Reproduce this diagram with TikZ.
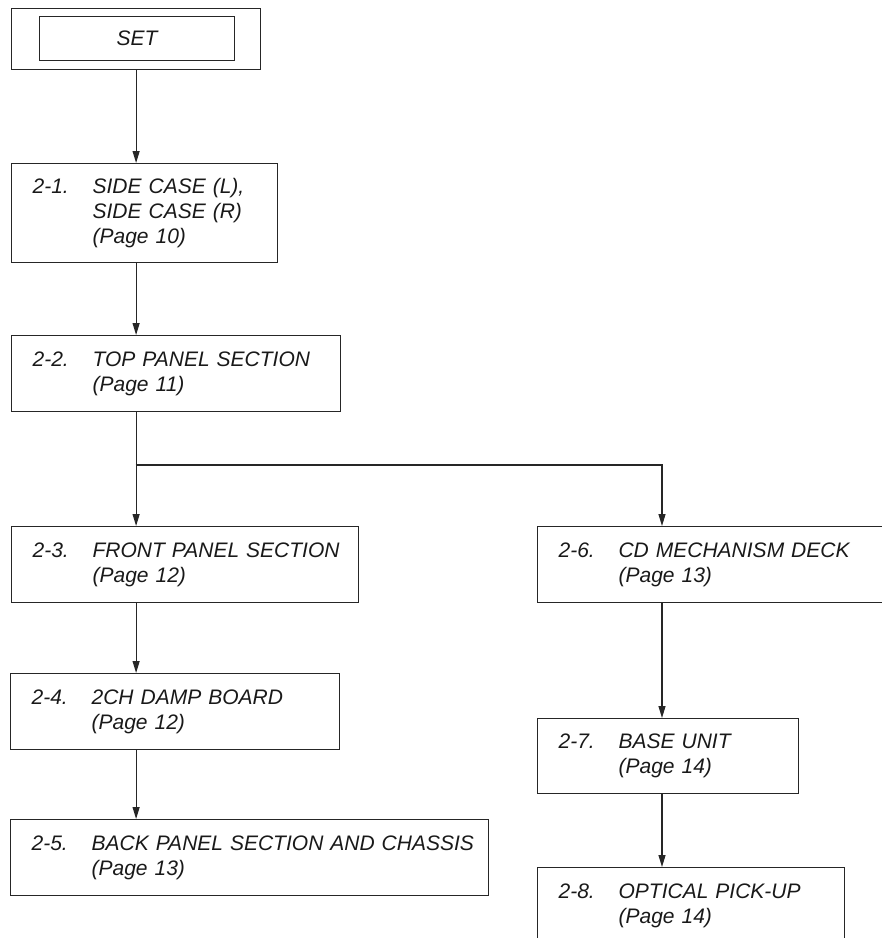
\documentclass[tikz,border=0pt]{standalone}
\usepackage{fontspec}
\setmainfont{Liberation Sans}
\usetikzlibrary{arrows.meta}

\newcommand{\partno}[2]{\makebox[60pt][l]{#1}\mbox{#2}}
\newcommand{\partmore}[1]{\hspace*{60pt}\mbox{#1}}

\begin{document}
\begin{tikzpicture}[
    x=1pt, y=1pt,
    every node/.style={font=\fontsize{21}{25}\selectfont\itshape, text=black!90},
    block/.style={draw=black!85, line width=1.2pt, anchor=north west,
      inner xsep=21pt, inner ysep=0pt, align=left},
    arrow/.style={-{Triangle[length=12pt,width=7pt]}, line width=1.2pt, draw=black!85}
  ]
  \useasboundingbox (0,0) rectangle (882,-938);
  \clip (0,0) rectangle (882,-938);

  % SET box with its inner frame
  \node[draw=black!85, line width=1.2pt, anchor=north west, minimum width=249,
    minimum height=61, inner sep=0pt] (set) at (11,-8) {};
  \node[draw=black!85, line width=1.2pt, anchor=north west, minimum width=195,
    minimum height=44, inner sep=0pt] (settxt) at (39,-16) {SET};

  % Left column
  \node[block, text width=224, minimum height=99] (b21) at (11,-163)
    {\partno{2-1.}{SIDE CASE (L),}\\\partmore{SIDE CASE (R)}\\\partmore{(Page 10)}};
  \node[block, text width=287, minimum height=76] (b22) at (11,-335)
    {\partno{2-2.}{TOP PANEL SECTION}\\\partmore{(Page 11)}};
  \node[block, text width=305, minimum height=76] (b23) at (11,-526)
    {\partno{2-3.}{FRONT PANEL SECTION}\\\partmore{(Page 12)}};
  \node[block, text width=287, minimum height=76] (b24) at (10,-673)
    {\partno{2-4.}{2CH DAMP BOARD}\\\partmore{(Page 12)}};
  \node[block, text width=436, minimum height=76] (b25) at (10,-819)
    {\partno{2-5.}{BACK PANEL SECTION AND CHASSIS}\\\partmore{(Page 13)}};

  % Right column
  \node[block, text width=318, minimum height=76] (b26) at (537,-526)
    {\partno{2-6.}{CD MECHANISM DECK}\\\partmore{(Page 13)}};
  \node[block, text width=219, minimum height=75] (b27) at (537,-718)
    {\partno{2-7.}{BASE UNIT}\\\partmore{(Page 14)}};
  \node[block, text width=265, minimum height=76] (b28) at (537,-867)
    {\partno{2-8.}{OPTICAL PICK-UP}\\\partmore{(Page 14)}};

  % Fork below 2-2
  \coordinate (fork) at (135.5,-465);
  \coordinate (forkr) at (662,-465);

  % Arrows
  \draw[arrow] (set) -- (set |- b21.north);
  \draw[arrow] (set |- b21.south) -- (set |- b22.north);
  \draw[arrow] (set |- b22.south) -- (set |- b23.north);
  \draw[arrow] (fork) -- (forkr) -- (forkr |- b26.north);
  \draw[arrow] (set |- b23.south) -- (set |- b24.north);
  \draw[arrow] (set |- b24.south) -- (set |- b25.north);
  \draw[arrow] (forkr |- b26.south) -- (forkr |- b27.north);
  \draw[arrow] (forkr |- b27.south) -- (forkr |- b28.north);
\end{tikzpicture}
\end{document}
